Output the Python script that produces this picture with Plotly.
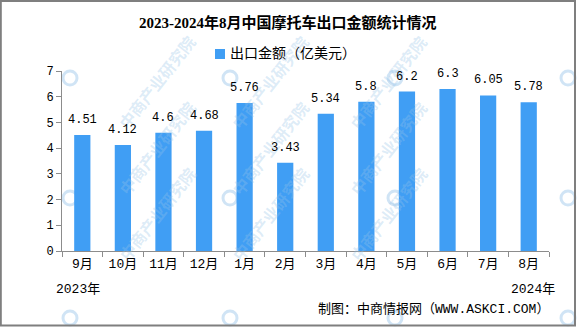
import plotly.graph_objects as go

# Monthly motorcycle export value, Sep 2023 - Aug 2024 (USD 100 million)
months = ["9月", "10月", "11月", "12月", "1月", "2月", "3月", "4月", "5月", "6月", "7月", "8月"]
export_value = [4.51, 4.12, 4.6, 4.68, 5.76, 3.43, 5.34, 5.8, 6.2, 6.3, 6.05, 5.78]
y_ticks = [0, 1, 2, 3, 4, 5, 6, 7]

title_text = "2023-2024年8月中国摩托车出口金额统计情况"
legend_text = "出口金额（亿美元）"
source_text = "制图：中商情报网（WWW.ASKCI.COM）"
watermark_text = "中商产业研究院"

W, H = 581, 327
L, R, T, B = 62, 549, 71, 251
BAR_COLOR = "#409ef4"
AXIS_COLOR = "#8c8c8c"
NUM_FONT = "Liberation Mono, Noto Sans CJK SC"
CJK_FONT = "Noto Sans CJK SC"


def px_x(px):
    return (px - L) / (R - L)


def px_y(py):
    return (B - py) / (B - T)


fig = go.Figure()
fig.add_trace(go.Bar(
    x=months, y=export_value, width=0.4,
    marker=dict(color=BAR_COLOR, line=dict(width=0)),
    showlegend=False, hoverinfo="skip",
))

annotations = []
shapes = []

# faint diagonal watermark: logo rings everywhere, text where it fits
wm_logos = [(x, y) for y in (78, 198, 318) for x in (70, 230, 395, 568)]
for lx, ly in wm_logos:
    shapes.append(dict(
        type="circle", xref="paper", yref="paper", layer="below",
        x0=px_x(lx - 7), x1=px_x(lx + 7), y0=px_y(ly + 7), y1=px_y(ly - 7),
        line=dict(color="rgba(150,195,232,0.45)", width=3),
    ))
    if lx < 500:
        annotations.append(dict(
            xref="paper", yref="paper", x=px_x(lx + 40), y=px_y(ly - 50),
            text=watermark_text, textangle=-52, showarrow=False,
            font=dict(family=CJK_FONT, size=16, color="rgba(150,195,232,0.33)", weight="bold"),
        ))

# value labels above bars
for m, v in zip(months, export_value):
    annotations.append(dict(
        x=m, y=v, xref="x", yref="y", text=f"{v:g}", showarrow=False,
        yanchor="middle", yshift=15,
        font=dict(family=NUM_FONT, size=12, color="#000000"),
    ))

# title
annotations.append(dict(
    xref="paper", yref="paper", x=px_x(288), y=px_y(22), text=title_text,
    showarrow=False, xanchor="center", yanchor="middle",
    font=dict(family="Liberation Serif, " + CJK_FONT, size=15, color="#000000", weight="bold"),
))

# legend entry
shapes.append(dict(
    type="rect", xref="paper", yref="paper",
    x0=px_x(215), x1=px_x(225), y0=px_y(59), y1=px_y(49),
    fillcolor=BAR_COLOR, line=dict(width=0),
))
annotations.append(dict(
    xref="paper", yref="paper", x=px_x(228), y=px_y(54), text=legend_text,
    showarrow=False, xanchor="left", yanchor="middle",
    font=dict(family=NUM_FONT, size=14, color="#000000"),
))

# year markers and source
annotations.append(dict(
    xref="paper", yref="paper", x=px_x(78), y=px_y(289), text="2023年",
    showarrow=False, xanchor="center", yanchor="middle",
    font=dict(family=NUM_FONT, size=13, color="#000000"),
))
annotations.append(dict(
    xref="paper", yref="paper", x=px_x(533), y=px_y(289), text="2024年",
    showarrow=False, xanchor="center", yanchor="middle",
    font=dict(family=NUM_FONT, size=13, color="#000000"),
))
annotations.append(dict(
    xref="paper", yref="paper", x=px_x(551), y=px_y(309), text=source_text,
    showarrow=False, xanchor="right", yanchor="middle",
    font=dict(family=NUM_FONT, size=13, color="#000000"),
))

# outer frame
shapes.append(dict(
    type="rect", xref="paper", yref="paper",
    x0=px_x(0.8), x1=px_x(575), y0=px_y(325.5), y1=px_y(1),
    line=dict(color="#7f7f7f", width=2), fillcolor="rgba(0,0,0,0)",
))

fig.update_layout(
    width=W, height=H,
    margin=dict(l=L, r=W - R, t=T, b=H - B),
    paper_bgcolor="#ffffff", plot_bgcolor="#ffffff",
    showlegend=False,
    annotations=annotations,
    shapes=shapes,
    xaxis=dict(
        type="category", tickson="boundaries", ticks="outside", ticklen=5,
        tickcolor=AXIS_COLOR, showline=True, linecolor=AXIS_COLOR, linewidth=1,
        showgrid=False, zeroline=False,
        tickfont=dict(family=NUM_FONT, size=13, color="#000000"),
        range=[-0.5, len(months) - 0.5], fixedrange=True,
    ),
    yaxis=dict(
        range=[0, 7], tickmode="array", tickvals=y_ticks,
        ticktext=[str(t) for t in y_ticks],
        ticks="outside", ticklen=5, tickcolor=AXIS_COLOR,
        showline=True, linecolor=AXIS_COLOR, linewidth=1,
        showgrid=False, zeroline=False,
        tickfont=dict(family=NUM_FONT, size=12, color="#000000"),
        fixedrange=True,
    ),
    bargap=0.6,
)

fig.write_html("out.html")
